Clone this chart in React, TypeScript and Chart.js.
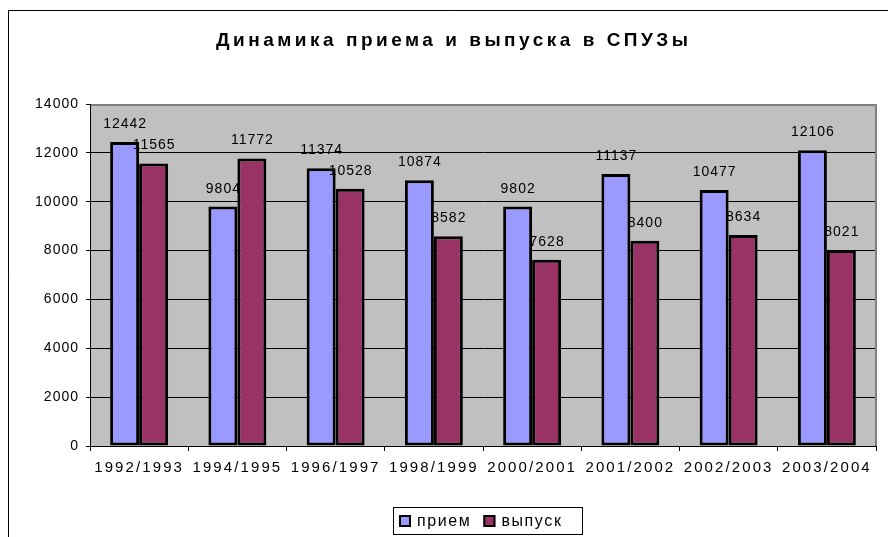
import { useEffect, useRef } from 'react';
import { Chart, registerables } from 'chart.js';

Chart.register(...registerables);

const title = 'Динамика приема и выпуска в СПУЗы';
const categories = ['1992/1993', '1994/1995', '1996/1997', '1998/1999', '2000/2001', '2001/2002', '2002/2003', '2003/2004'];
const seriesNames = ['прием', 'выпуск'];
const priem = [12442, 9804, 11374, 10874, 9802, 11137, 10477, 12106];
const vypusk = [11565, 11772, 10528, 8582, 7628, 8400, 8634, 8021];
const yMin = 0;
const yMax = 14000;
const yStep = 2000;

const FONT = "'Liberation Sans', Arial, sans-serif";
const BLUE = '#9999FF';
const PLUM = '#993366';
const PLOT_BG = '#C0C0C0';

function patchLabels(scale: any, spacing: string) {
  if (!scale || scale._lsPatched) return;
  const orig = scale.drawLabels;
  scale.drawLabels = function (area: any) {
    const ctx = this.ctx;
    ctx.save();
    ctx.letterSpacing = spacing;
    orig.call(this, area);
    ctx.restore();
  };
  scale._lsPatched = true;
}

const framePlugin = {
  id: 'frame',
  beforeDraw(chart: any) {
    patchLabels(chart.scales.x, '2.1px');
    patchLabels(chart.scales.y, '1px');
    const ctx = chart.ctx;
    const a = chart.chartArea;
    ctx.save();
    ctx.fillStyle = '#FFFFFF';
    ctx.fillRect(0, 0, chart.width, chart.height);
    ctx.fillStyle = PLOT_BG;
    ctx.fillRect(a.left, a.top, a.right - a.left, a.bottom - a.top);
    ctx.strokeStyle = '#000';
    ctx.lineWidth = 1;
    ctx.beginPath();
    ctx.moveTo(8.5, chart.height);
    ctx.lineTo(8.5, 10.5);
    ctx.lineTo(chart.width, 10.5);
    ctx.stroke();
    ctx.restore();
  },
  afterDatasetsDraw(chart: any) {
    const ctx = chart.ctx;
    ctx.save();
    ctx.font = `14px ${FONT}`;
    ctx.letterSpacing = '1px';
    ctx.fillStyle = '#000';
    ctx.textAlign = 'center';
    ctx.textBaseline = 'alphabetic';
    chart.data.datasets.forEach((ds: any, i: number) => {
      const meta = chart.getDatasetMeta(i);
      meta.data.forEach((el: any, j: number) => {
        ctx.fillText(String(ds.data[j]), el.x + 0.5, el.y - 14);
      });
    });
    ctx.restore();
  },
  afterDraw(chart: any) {
    const ctx = chart.ctx;
    const a = chart.chartArea;
    ctx.save();
    // plot area border (top / right)
    ctx.strokeStyle = '#808080';
    ctx.lineWidth = 2;
    ctx.beginPath();
    ctx.moveTo(a.left + 1, a.top + 1);
    ctx.lineTo(a.right + 1, a.top + 1);
    ctx.moveTo(a.right, a.top);
    ctx.lineTo(a.right, a.bottom);
    ctx.stroke();

    // title
    ctx.fillStyle = '#000';
    ctx.font = `bold 19px ${FONT}`;
    ctx.letterSpacing = '0px';
    const w0 = ctx.measureText(title).width;
    const n = Array.from(title).length;
    const sp = (472 - w0) / (n - 1);
    ctx.letterSpacing = `${sp}px`;
    ctx.textAlign = 'left';
    ctx.textBaseline = 'alphabetic';
    ctx.fillText(title, 216, 46);

    // legend
    ctx.letterSpacing = '0px';
    ctx.strokeStyle = '#000';
    ctx.lineWidth = 1;
    ctx.strokeRect(393.5, 507.5, 189, 27);
    ctx.font = `16px ${FONT}`;
    ctx.letterSpacing = '1.6px';
    ctx.textBaseline = 'middle';
    let x = 399;
    chart.data.datasets.forEach((ds: any) => {
      ctx.fillStyle = ds.backgroundColor;
      ctx.fillRect(x, 515, 12, 12);
      ctx.lineWidth = 2;
      ctx.strokeStyle = '#000';
      ctx.strokeRect(x + 1, 516, 10, 10);
      ctx.fillStyle = '#000';
      ctx.fillText(ds.label, x + 18, 521.5);
      x += 18 + ctx.measureText(ds.label).width + 12;
    });
    ctx.restore();
  },
};

export default function App() {
  const ref = useRef<HTMLCanvasElement | null>(null);

  useEffect(() => {
    if (!ref.current) return;
    const chart = new Chart(ref.current, {
      type: 'bar',
      data: {
        labels: categories,
        datasets: [
          {
            label: seriesNames[0],
            data: priem,
            backgroundColor: BLUE,
            borderColor: '#000',
            borderWidth: 3,
            borderSkipped: false,
            categoryPercentage: 0.59,
            barPercentage: 1,
          },
          {
            label: seriesNames[1],
            data: vypusk,
            backgroundColor: PLUM,
            borderColor: '#000',
            borderWidth: 3,
            borderSkipped: false,
            categoryPercentage: 0.59,
            barPercentage: 1,
          },
        ],
      } as any,
      options: {
        animation: false,
        responsive: false,
        devicePixelRatio: 1,
        layout: { padding: { left: 8, right: 24, top: 104, bottom: 61 } },
        plugins: {
          legend: { display: false },
          title: { display: false },
          tooltip: { enabled: false },
        },
        scales: {
          x: {
            grid: {
              offset: true,
              drawOnChartArea: false,
              drawTicks: true,
              tickLength: 5,
              color: '#000',
              lineWidth: 1,
            },
            border: { color: '#000', width: 1 },
            ticks: {
              color: '#000',
              font: { family: FONT, size: 15 },
              padding: 8,
              maxRotation: 0,
              minRotation: 0,
              autoSkip: false,
            },
            afterFit: (s: any) => {
              s.height = 30;
            },
          },
          y: {
            min: yMin,
            max: yMax,
            grid: {
              color: '#000',
              lineWidth: 1,
              drawTicks: true,
              tickLength: 4,
            },
            border: { color: '#000', width: 1 },
            ticks: {
              stepSize: yStep,
              color: '#000',
              font: { family: FONT, size: 14 },
              padding: 7,
              callback: (v: any) => String(v),
            },
            afterFit: (s: any) => {
              s.width = 82;
            },
          },
        },
      } as any,
      plugins: [framePlugin],
    });
    return () => chart.destroy();
  }, []);

  return (
    <div
      style={{
        position: 'fixed',
        left: 0,
        top: 0,
        width: 888,
        height: 537,
        overflow: 'hidden',
        background: '#fff',
      }}
    >
      <canvas ref={ref} width={900} height={537} style={{ display: 'block' }} />
    </div>
  );
}
